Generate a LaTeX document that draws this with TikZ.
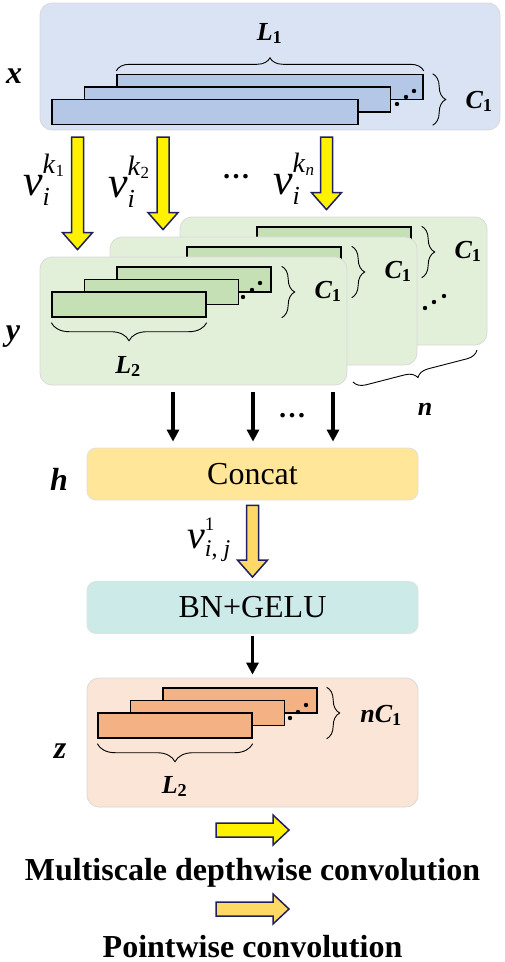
\documentclass[tikz,border=0pt]{standalone}
\usepackage{fontspec}
\setmainfont{Liberation Serif}
\usetikzlibrary{calc,arrows.meta,decorations.pathreplacing}
\definecolor{bluebg}{RGB}{218,227,243}
\definecolor{bluestrip}{RGB}{180,199,231}
\definecolor{greenbg}{RGB}{226,240,217}
\definecolor{greenstrip}{RGB}{197,224,180}
\definecolor{concatc}{RGB}{255,230,153}
\definecolor{bnc}{RGB}{204,234,232}
\definecolor{orangebg}{RGB}{251,229,214}
\definecolor{orangestrip}{RGB}{244,177,131}
\definecolor{dwyellow}{RGB}{255,242,0}
\definecolor{pwyellow}{RGB}{255,217,102}
\definecolor{navy}{RGB}{32,32,96}
\tikzset{
    layer/.style={draw=black!15, line width=0.8pt, rounded corners=12pt, inner sep=0pt},
    strip/.style={draw, line width=1.4pt, rectangle, inner sep=0pt, minimum height=25pt},
    op/.style={draw=black!12, line width=0.8pt, rounded corners=9pt, minimum width=331pt, minimum height=52pt, font=\fontsize{32}{36}\selectfont},
    var/.style={font=\fontsize{32}{36}\selectfont\bfseries\itshape, anchor=base},
    dim/.style={font=\fontsize{26}{30}\selectfont\bfseries\itshape, anchor=base},
    kern/.style={font=\fontsize{44}{48}\selectfont, anchor=base west, inner sep=0pt},
    legend/.style={font=\fontsize{32}{36}\selectfont\bfseries, anchor=base},
    gap/.style={font=\fontsize{28}{32}\selectfont\bfseries},
    brace/.style={decorate, decoration={brace, amplitude=13pt}, line width=0.9pt},
    mbrace/.style={decorate, decoration={brace, amplitude=18pt, mirror}, line width=0.9pt},
    blk/.style={-{Triangle[width=12pt,length=12pt]}, line width=3.6pt},
    fatline/.style={draw=navy, line width=1.5pt, line join=miter}
}
% block arrows: fill, start, tip
\newcommand{\fatdown}[3]{%
  \filldraw[fatline, fill=#1] ($(#2)+(-6,0)$) -- ($(#3)+(-6,-17)$) -- ($(#3)+(-15,-17)$)
    -- (#3) -- ($(#3)+(15,-17)$) -- ($(#3)+(6,-17)$) -- ($(#2)+(6,0)$) -- cycle;}
\newcommand{\fatright}[3]{%
  \filldraw[fatline, fill=#1] ($(#2)+(0,-7)$) -- ($(#3)+(-16,-7)$) -- ($(#3)+(-16,-15)$)
    -- (#3) -- ($(#3)+(-16,15)$) -- ($(#3)+(-16,7)$) -- ($(#2)+(0,7)$) -- cycle;}
\newcommand{\dimlab}[2]{#1\textsubscript{\upshape #2}}
\newcommand{\sfs}[1]{\fontsize{#1}{#1}\selectfont}
% kernel label: sub, sup, raise of sup, drop of sub
\newcommand{\kv}[4]{\textit{v}\rlap{\raisebox{-#4}{#1}}\raisebox{#3}{#2}}

\begin{document}
\begin{tikzpicture}[x=1pt, y=-1pt]
\useasboundingbox (0,0) rectangle (505,962);

% input x
\node[layer, fill=bluebg, minimum width=460pt, minimum height=127pt] (xbox) at (270,66.5) {};
\foreach \j in {2,1,0}
  \node[strip, fill=bluestrip, minimum width=306pt] (x\j) at (205+32.5*\j, 112-12.5*\j) {};
\foreach \p in {(397,104),(406,97),(414,91)} \fill \p circle (2.2pt);
\draw[brace] ([yshift=3pt]x2.north west) -- ([yshift=3pt]x2.north east);
\node[dim] (l1) at (269.5,40) {\dimlab{L}{1}};
\draw[brace] ([xshift=9pt]x2.north east) -- ([xshift=9pt]x2.north east |- x0.south);
\node[dim] (cx) at (479,108) {\dimlab{C}{1}};
\node[var] (xlab) at (14,83) {x};

% y, one layer per kernel
\foreach \i in {2,1,0}{
\begin{scope}[shift={(70*\i,-20*\i)}]
\node[layer, fill=greenbg, minimum width=307pt, minimum height=128pt] (g\i) at (193.5,321) {};
\foreach \j in {2,1,0}
  \node[strip, fill=greenstrip, minimum width=154pt] (s\i-\j) at (129+32.5*\j, 304.5-12.5*\j) {};
\foreach \p in {(243,297),(252,290),(260,283)} \fill \p circle (2.2pt);
\draw[brace] ([xshift=10pt]s\i-2.north east) -- ([xshift=10pt]s\i-2.north east |- s\i-0.south);
\node[dim] (c\i) at (328,298) {\dimlab{C}{1}};
\draw[mbrace] ([yshift=-5pt]s\i-0.south west) -- ([yshift=-5pt]s\i-0.south east);
\node[dim] (l\i) at (128,373) {\dimlab{L}{2}};
\end{scope}}
\foreach \p in {(425,308),(434,302),(444,296)} \fill \p circle (2.2pt);
\coordinate (n0) at (353,382);
\coordinate (n1) at (477,350);
\draw[brace, decoration={mirror, amplitude=12pt}] (n0) -- (n1);
\node[dim] (nlab) at (425,415) {n};
\node[var] (ylab) at (13,340) {y};

% depthwise kernels
\coordinate (k1) at (77.5,137);
\coordinate (k2) at (163,137);
\coordinate (k3) at (326.5,137);
\coordinate (t1) at ($(g0.north -| k1)+(0,-7)$);
\coordinate (t2) at ($(g1.north -| k2)+(0,-7)$);
\coordinate (t3) at ($(g2.north -| k3)+(0,-7)$);
\fatdown{dwyellow}{k1}{t1}
\fatdown{dwyellow}{k2}{t2}
\fatdown{dwyellow}{k3}{t3}
\node[kern] (v1) at (23,195) {\kv{\sfs{26}\textit{i}}{\sfs{28}\textit{k}\raisebox{-3pt}{\sfs{17}1}}{22pt}{10pt}};
\node[kern] (v2) at (108,197) {\kv{\sfs{26}\textit{i}}{\sfs{28}\textit{k}\raisebox{-3pt}{\sfs{17}2}}{22pt}{10pt}};
\node[kern] (vn) at (273,194) {\kv{\sfs{26}\textit{i}}{\sfs{28}\textit{k}\raisebox{-3pt}{\sfs{17}\textit{n}}}{22pt}{10pt}};
\node[gap] (kdots) at (236,177) {…};

% h
\node[op, fill=concatc] (h) at (252.5,474) {Concat};
\node[var] (hlab) at (59,490) {h};
\foreach \xx in {173,253,333}{
  \coordinate (a\xx) at (\xx,392);
  \draw[blk, shorten >=6pt] (a\xx) -- (a\xx |- h.north);
}
\node[gap] (gdots) at (292,416) {…};

% pointwise
\node[op, fill=bnc] (bn) at (252.5,607.5) {BN+GELU};
\coordinate (p0) at ($(h.south)+(0,5)$);
\coordinate (p1) at ($(bn.north)+(0,-4)$);
\fatdown{pwyellow}{p0}{p1}
\node[kern, font=\sfs{40}] (v3) at (187,548) {\kv{\sfs{24}\textit{i}, \textit{j}}{\sfs{19}1}{18pt}{8pt}};

% z
\node[layer, fill=orangebg, minimum width=331pt, minimum height=129pt] (zbox) at (252.5,742.5) {};
\draw[blk, shorten <=2pt, shorten >=3pt] (bn.south) -- (zbox.north);
\foreach \j in {2,1,0}
  \node[strip, fill=orangestrip, minimum width=154pt] (z\j) at (175+32.5*\j, 725.5-12.5*\j) {};
\foreach \p in {(290,718),(298,712),(306,705)} \fill \p circle (2.2pt);
\draw[brace] ([xshift=9pt]z2.north east) -- ([xshift=9pt]z2.north east |- z0.south);
\node[dim] (cz) at (381,722) {n\dimlab{C}{1}};
\draw[mbrace] ([yshift=-5pt]z0.south west) -- ([yshift=-5pt]z0.south east);
\node[dim] (lz) at (174.5,793) {\dimlab{L}{2}};
\node[var] (zlab) at (60,758) {z};

% legend
\coordinate (m0) at (216,830);
\coordinate (m1) at (289,830);
\fatright{dwyellow}{m0}{m1}
\node[legend] (mtext) at (252.5,880) {Multiscale depthwise convolution};
\coordinate (q0) at (216,909);
\coordinate (q1) at (289,909);
\fatright{pwyellow}{q0}{q1}
\node[legend] (ptext) at (252.5,957) {Pointwise convolution};
\end{tikzpicture}
\end{document}
